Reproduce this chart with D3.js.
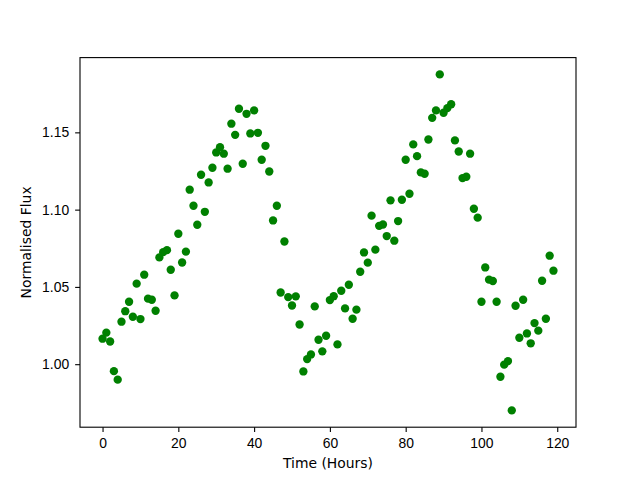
<!DOCTYPE html>
<html>
<head>
<meta charset="utf-8">
<script src="https://cdn.jsdelivr.net/npm/d3@7"></script>
<style>
    body { margin: 0; background: #fff; }
    svg { display: block; font-family: "DejaVu Sans", sans-serif; }
    .tick text { font-size: 13.9px; fill: #000; }
    .tick line { stroke: #000; stroke-width: 1.1; }
    .label { font-size: 13.9px; fill: #000; }
</style>
</head>
<body>
<div class="container"></div>
<script>
const width = 640,
    height = 480,
    margin = {top: 57.6, right: 64, bottom: 52.8, left: 80},
    innerW = width - margin.left - margin.right,
    innerH = height - margin.top - margin.bottom;

// hours since start
const hours = [
    0, 1, 2, 3, 4, 5, 6, 7, 8, 9, 10, 11, 12, 13, 14, 15, 16, 17, 18, 19,
    20, 21, 22, 23, 24, 25, 26, 27, 28, 29, 30, 31, 32, 33, 34, 35, 36, 37, 38, 39,
    40, 41, 42, 43, 44, 45, 46, 47, 48, 49, 50, 51, 52, 53, 54, 55, 56, 57, 58, 59,
    60, 61, 62, 63, 64, 65, 66, 67, 68, 69, 70, 71, 72, 73, 74, 75, 76, 77, 78, 79,
    80, 81, 82, 83, 84, 85, 86, 87, 88, 89, 90, 91, 92, 93, 94, 95, 96, 97, 98, 99,
    100, 101, 102, 103, 104, 105, 106, 107, 108, 109, 110, 111, 112, 113, 114, 115, 116, 117, 118, 119
];

// normalised flux
const flux = [
    1.0165, 1.0204, 1.0147, 0.9955, 0.9900, 1.0275, 1.0343, 1.0404, 1.0307, 1.0521,
    1.0292, 1.0579, 1.0424, 1.0417, 1.0346, 1.0691, 1.0725, 1.0738, 1.0611, 1.0445,
    1.0844, 1.0658, 1.0728, 1.1129, 1.1025, 1.0902, 1.1226, 1.0986, 1.1176, 1.1271,
    1.1370, 1.1404, 1.1362, 1.1265, 1.1556, 1.1484, 1.1653, 1.1297, 1.1620, 1.1493,
    1.1642, 1.1497, 1.1323, 1.1413, 1.1247, 1.0930, 1.1025, 1.0464, 1.0794, 1.0434,
    1.0380, 1.0439, 1.0257, 0.9953, 1.0033, 1.0063, 1.0374, 1.0158, 1.0083, 1.0184,
    1.0415, 1.0440, 1.0128, 1.0475, 1.0361, 1.0514, 1.0294, 1.0353, 1.0598, 1.0723,
    1.0657, 1.0961, 1.0741, 1.0895, 1.0904, 1.0829, 1.1060, 1.0799, 1.0926, 1.1064,
    1.1323, 1.1103, 1.1422, 1.1346, 1.1241, 1.1232, 1.1454, 1.1594, 1.1642, 1.1875,
    1.1627, 1.1657, 1.1682, 1.1448, 1.1376, 1.1204, 1.1213, 1.1362, 1.1006, 1.0948,
    1.0404, 1.0626, 1.0547, 1.0538, 1.0404, 0.9919, 0.9997, 1.0020, 0.9701, 1.0378,
    1.0171, 1.0417, 1.0199, 1.0135, 1.0266, 1.0217, 1.0540, 1.0294, 1.0702, 1.0605
];

const xTicks = [0, 20, 40, 60, 80, 100, 120],
    yTicks = [1.00, 1.05, 1.10, 1.15];

const data = hours.map((h, i) => ({time: h, flux: flux[i]}));

// matplotlib style 5% padding around the data
const pad = ([a, b]) => [a - (b - a) * 0.05, b + (b - a) * 0.05];

const x = d3.scaleLinear()
    .domain(pad(d3.extent(hours)))
    .range([0, innerW]);

const y = d3.scaleLinear()
    .domain(pad(d3.extent(flux)))
    .range([innerH, 0]);

const svg = d3.select('.container')
    .append('svg')
    .attr('width', width)
    .attr('height', height);

const g = svg.append('g')
    .attr('transform', `translate(${margin.left}, ${margin.top})`);

g.selectAll('circle')
    .data(data)
    .enter()
    .append('circle')
    .attr('cx', d => x(d.time))
    .attr('cy', d => y(d.flux))
    .attr('r', 4.17)
    .attr('fill', '#008000');

const xAxis = g.append('g')
    .attr('transform', `translate(0, ${innerH})`)
    .call(d3.axisBottom(x).tickValues(xTicks).tickSize(4.86).tickPadding(6.5).tickFormat(d3.format('d')));

const yAxis = g.append('g')
    .call(d3.axisLeft(y).tickValues(yTicks).tickSize(4.86).tickPadding(6).tickFormat(d3.format('.2f')));

[xAxis, yAxis].forEach(a => a.select('.domain').remove());

g.append('rect')
    .attr('width', innerW)
    .attr('height', innerH)
    .attr('fill', 'none')
    .attr('stroke', '#000')
    .attr('stroke-width', 1.1);

svg.append('text')
    .attr('class', 'label')
    .attr('x', margin.left + innerW / 2)
    .attr('y', 468)
    .attr('text-anchor', 'middle')
    .text('Time (Hours)');

svg.append('text')
    .attr('class', 'label')
    .attr('transform', `translate(31, ${margin.top + innerH / 2}) rotate(-90)`)
    .attr('text-anchor', 'middle')
    .text('Normalised Flux');
</script>
</body>
</html>
